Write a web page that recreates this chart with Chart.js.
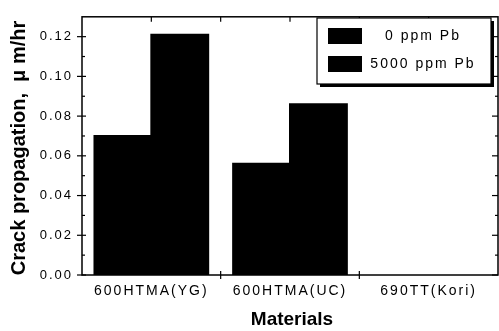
<!DOCTYPE html>
<html lang="en">
<head>
    <meta charset="UTF-8">
    <title>Crack propagation</title>
    <script src="https://cdn.jsdelivr.net/npm/chart.js"></script>
    <style>
        body { margin: 0; background: #fff; overflow: hidden; }
        canvas { display: block; }
    </style>
</head>
<body>
    <canvas id="crackChart" width="499" height="331"></canvas>

    <script>
        // values
        const materials = ['600HTMA(YG)', '600HTMA(UC)', '690TT(Kori)'];
        const pb0 = [0.070, 0.056, null];
        const pb5000 = [0.121, 0.086, null];
        const seriesLabels = ['0 ppm Pb', '5000 ppm Pb'];
        const yMin = 0;
        const yMax = 0.13;
        const yStep = 0.02;

        const FONT = "'Liberation Sans', Arial, sans-serif";

        // letter spacing for tick labels and legend (the scan is very widely spaced)
        const spacing = {
            id: 'spacing',
            beforeInit(chart) { chart.ctx.letterSpacing = '2px'; },
            beforeUpdate(chart) { chart.ctx.letterSpacing = '2px'; },
            beforeDraw(chart) { chart.ctx.letterSpacing = '2px'; }
        };

        // frame, ticks, axis titles and the boxed legend
        const frame = {
            id: 'frame',
            afterDraw(chart) {
                const { ctx, chartArea: a, scales: { x, y } } = chart;
                ctx.save();
                ctx.strokeStyle = '#000';
                ctx.fillStyle = '#000';
                ctx.lineWidth = 1.5;
                ctx.strokeRect(a.left, a.top, a.right - a.left, a.bottom - a.top);

                const line = (x1, y1, x2, y2) => {
                    ctx.beginPath();
                    ctx.moveTo(x1, y1);
                    ctx.lineTo(x2, y2);
                    ctx.stroke();
                };

                // y ticks, major and minor, on both sides
                ctx.lineWidth = 1.2;
                const vals = y.ticks.map(t => t.value);
                vals.forEach((v, i) => {
                    const py = y.getPixelForValue(v);
                    line(a.left - 5, py, a.left + 4, py);
                    line(a.right - 6, py, a.right, py);
                    const next = i < vals.length - 1 ? vals[i + 1] : v + yStep;
                    const mv = (v + next) / 2;
                    if (mv < yMax) {
                        const pm = y.getPixelForValue(mv);
                        line(a.left, pm, a.left + 3, pm);
                        line(a.right - 3, pm, a.right, pm);
                    }
                });

                // x ticks
                const cw = (a.right - a.left) / materials.length;
                materials.forEach((m, i) => {
                    const cx = x.getPixelForValue(i);
                    line(cx, a.top, cx, a.top + 5);
                    if (i > 0) {
                        const bx = cx - cw / 2;
                        line(bx, a.top, bx, a.top + 5);
                        line(bx, a.bottom - 4, bx, a.bottom + 4);
                    }
                });

                // axis titles
                ctx.letterSpacing = '0px';
                ctx.textAlign = 'center';
                ctx.textBaseline = 'middle';
                ctx.font = 'bold 19px ' + FONT;
                ctx.fillText('Materials', (a.left + a.right) / 2 + 2, 320);

                ctx.save();
                ctx.translate(19, 148);
                ctx.rotate(-Math.PI / 2);
                ctx.font = 'bold 20px ' + FONT;
                ctx.fillText('Crack propagation,  \u03bc m/hr', 0, 0);
                ctx.restore();

                // legend box with drop shadow
                const bx = 317, by = 18, bw = 174, bh = 66;
                ctx.fillStyle = '#000';
                ctx.fillRect(bx + 3, by + 3, bw, bh);
                ctx.fillStyle = '#fff';
                ctx.fillRect(bx, by, bw, bh);
                ctx.lineWidth = 1.2;
                ctx.strokeRect(bx, by, bw, bh);

                ctx.letterSpacing = '2px';
                ctx.font = '14px ' + FONT;
                chart.data.datasets.forEach((ds, i) => {
                    const ry = by + 10 + i * 28;
                    ctx.fillStyle = ds.backgroundColor;
                    ctx.fillRect(bx + 11, ry, 34, 16);
                    ctx.fillStyle = '#000';
                    ctx.fillText(ds.label, bx + 106, ry + 8);
                });
                ctx.restore();
            }
        };

        const ctx = document.getElementById('crackChart').getContext('2d');
        new Chart(ctx, {
            type: 'bar',
            data: {
                labels: materials,
                datasets: [
                    { label: seriesLabels[0], data: pb0, backgroundColor: '#000', borderWidth: 0, inflateAmount: 1 },
                    { label: seriesLabels[1], data: pb5000, backgroundColor: '#000', borderWidth: 0, inflateAmount: 1 }
                ]
            },
            options: {
                responsive: false,
                animation: false,
                categoryPercentage: 0.82,
                barPercentage: 1.0,
                layout: { padding: { top: 10, right: 1, left: 0, bottom: 0 } },
                plugins: {
                    legend: { display: false },
                    tooltip: { enabled: false }
                },
                scales: {
                    x: {
                        grid: { display: false, drawTicks: false },
                        border: { display: false },
                        ticks: {
                            color: '#000',
                            padding: 8,
                            maxRotation: 0,
                            font: { family: FONT, size: 14 }
                        },
                        afterFit(scale) { scale.height = 56; }
                    },
                    y: {
                        min: yMin,
                        max: yMax,
                        grid: { display: false, drawTicks: false },
                        border: { display: false },
                        ticks: {
                            stepSize: yStep,
                            includeBounds: false,
                            color: '#000',
                            padding: 9,
                            font: { family: FONT, size: 13 },
                            callback: v => v.toFixed(2)
                        },
                        afterFit(scale) { scale.width = 82; }
                    }
                }
            },
            plugins: [spacing, frame]
        });
    </script>
</body>
</html>
